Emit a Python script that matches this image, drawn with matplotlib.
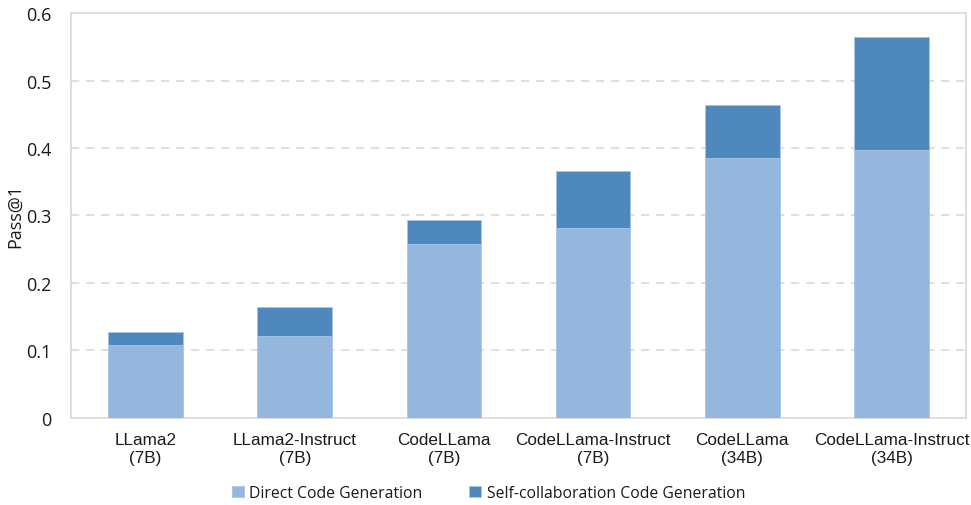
import matplotlib
matplotlib.use("Agg")
import matplotlib.pyplot as plt
import numpy as np

categories = ["LLama2\n(7B)", "LLama2-Instruct\n(7B)", "CodeLLama\n(7B)",
              "CodeLLama-Instruct\n(7B)", "CodeLLama\n(34B)", "CodeLLama-Instruct\n(34B)"]
direct = [0.108, 0.121, 0.258, 0.281, 0.385, 0.397]
selfcollab_total = [0.127, 0.164, 0.293, 0.366, 0.464, 0.564]
series_names = ["Direct Code Generation", "Self-collaboration Code Generation"]
yticks = [0, 0.1, 0.2, 0.3, 0.4, 0.5, 0.6]
ytick_labels = ["0", "0.1", "0.2", "0.3", "0.4", "0.5", "0.6"]

plt.rcParams['font.family'] = ['Liberation Sans', 'DejaVu Sans']

fig = plt.figure(figsize=(9.71, 5.06), dpi=100)
ax = fig.add_axes([0.0731, 0.172, 0.9218, 0.8003])

x = np.arange(len(categories))
extra = [t - d for t, d in zip(selfcollab_total, direct)]
light = "#95B7DD"
dark = "#4F88BC"
ax.bar(x, direct, width=0.5, color=light, edgecolor="#A9C5E6", linewidth=0.6,
       label=series_names[0], zorder=3)
ax.bar(x, extra, bottom=direct, width=0.5, color=dark, edgecolor="#A9C5E6",
       linewidth=0.6, label=series_names[1], zorder=3)

ax.set_xlim(-0.5, len(categories) - 0.5)
ax.set_ylim(0, 0.6)
ax.set_yticks(yticks)
ax.set_yticklabels(ytick_labels)
ax.set_xticks(x)
ax.set_xticklabels(categories, fontsize=12.3, color="#1a1a1a", linespacing=1.25)
ax.tick_params(axis='y', labelsize=13, colors="#1a1a1a", length=0, pad=14)
ax.tick_params(axis='x', length=0, pad=10)
for tl in ax.get_yticklabels():
    tl.set_fontfamily(['Open Sans', 'DejaVu Sans'])

for y in yticks[1:-1]:
    ax.axhline(y, color="#D9D9D9", linestyle=(0, (5, 4)), linewidth=1.2, zorder=1)

for s in ax.spines.values():
    s.set_color("#D9D9D9")
    s.set_linewidth(1.2)

ax.set_ylabel("Pass@1", fontsize=13, color="#1a1a1a",
              fontfamily=['Open Sans', 'DejaVu Sans'])
ax.yaxis.set_label_coords(-0.052, 0.5)

leg = fig.legend(loc="center", bbox_to_anchor=(0.503, 0.024), ncol=2, frameon=False,
                 handlelength=0.75, handleheight=0.75, handletextpad=0.35,
                 columnspacing=3.0, prop={'family': ['Open Sans', 'DejaVu Sans'], 'size': 11.3})
for t in leg.get_texts():
    t.set_color("#1a1a1a")

fig.savefig("out.png", dpi=100)
